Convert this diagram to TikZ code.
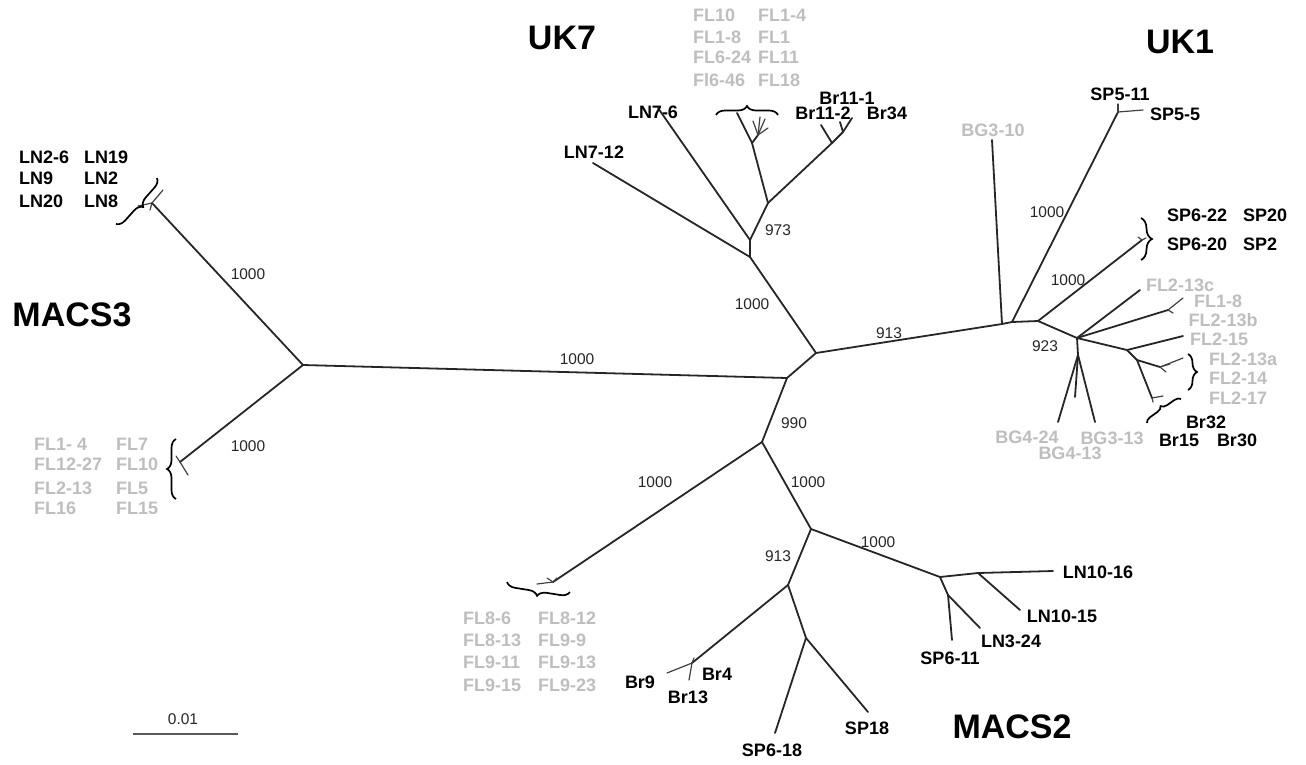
\documentclass[tikz,border=0pt]{standalone}
\usepackage{fontspec}
\setmainfont{Liberation Sans}
\usetikzlibrary{decorations.pathreplacing}
\definecolor{lgray}{RGB}{190,190,190}
\tikzset{
  br/.style={line width=1.8pt, draw=black!85, line cap=round},
  tw/.style={line width=1.2pt, draw=black!75, line cap=round},
  lab/.style={font=\fontsize{18}{18}\selectfont\bfseries, inner sep=0pt},
  glab/.style={lab, text=lgray},
  boot/.style={font=\fontsize{15.5}{15.5}\selectfont, inner sep=0pt, text=black!85},
  big/.style={font=\fontsize{34}{34}\selectfont\bfseries, inner sep=0pt},
  brc/.style={decorate, decoration={brace, amplitude=9pt}, line width=1.7pt},
  brcm/.style={decorate, decoration={brace, amplitude=9pt, mirror}, line width=1.7pt}
}
\begin{document}
\begin{tikzpicture}[x=1pt,y=-1pt]
\useasboundingbox (0,0) rectangle (1306,764);
% ---------- internal nodes ----------
\coordinate (M3) at (303,365);
\coordinate (A) at (787,378);
\coordinate (B) at (816,353);
\coordinate (C) at (762,442);
\coordinate (U0) at (750,257);
\coordinate (U1) at (750,240);
\coordinate (U2) at (768,203);
\coordinate (UF) at (752,143);
\coordinate (UF2) at (758,135);
\coordinate (UB1) at (832,143);
\coordinate (UB2) at (843,132);
\coordinate (K0) at (1002,324);
\coordinate (K1) at (1012,322);
\coordinate (K2) at (1038,321);
\coordinate (K3) at (1077,338);
\coordinate (K4) at (1127,350);
\coordinate (K5) at (1137,360);
\coordinate (K6) at (1078,355);
\coordinate (R1) at (1168,310);
\coordinate (R2) at (1160,367);
\coordinate (R3) at (1152,398);
\coordinate (S5) at (1118,112);
\coordinate (S6) at (1142,240);
\coordinate (E) at (811,529);
\coordinate (F) at (788,585);
\coordinate (G) at (940,577);
\coordinate (G2) at (978,573);
\coordinate (G3) at (948,595);
\coordinate (H) at (806,638);
\coordinate (Bn) at (692,663);
\coordinate (TT) at (152,203);
\coordinate (TB) at (180,462);
\coordinate (T8) at (553,582);
% ---------- tips ----------
\coordinate (tLN712) at (593,163);
\coordinate (tLN76) at (658,108);
\coordinate (tUF1) at (737,113);
\coordinate (tUF2) at (753,121);
\coordinate (tUF3) at (760,117);
\coordinate (tUF4) at (765,119);
\coordinate (tUF5) at (768,128);
\coordinate (tBr112) at (821,125);
\coordinate (tBr111) at (840,122);
\coordinate (tBr34) at (852,118);
\coordinate (tBG310) at (992,140);
\coordinate (tSP511) at (1118,104);
\coordinate (tSP55) at (1143,110);
\coordinate (tSP6a) at (1138,237);
\coordinate (tSP6b) at (1146,238);
\coordinate (tFL213c) at (1140,290);
\coordinate (tFL18) at (1183,298);
\coordinate (tFL213b) at (1173,313);
\coordinate (tFL215) at (1183,336);
\coordinate (tFLa) at (1183,358);
\coordinate (tFLb) at (1166,372);
\coordinate (tFLc) at (1170,364);
\coordinate (tBra) at (1163,396);
\coordinate (tBrb) at (1153,402);
\coordinate (tBG424) at (1058,422);
\coordinate (tBG313) at (1095,422);
\coordinate (tBG413) at (1075,397);
\coordinate (tTa) at (163,190);
\coordinate (tTb) at (138,206);
\coordinate (tTc) at (150,210);
\coordinate (tBa) at (188,475);
\coordinate (tBb) at (176,456);
\coordinate (t8a) at (537,584);
\coordinate (t8b) at (547,578);
\coordinate (t8c) at (557,578);
\coordinate (tLN1016) at (1053,571);
\coordinate (tLN1015) at (1020,610);
\coordinate (tLN324) at (980,628);
\coordinate (tSP611) at (952,640);
\coordinate (tBr9) at (667,673);
\coordinate (tBr13) at (689,680);
\coordinate (tBr4) at (694,658);
\coordinate (tSP618) at (775,733);
\coordinate (tSP18) at (868,712);
% ---------- branches ----------
\draw[br] (M3) -- (A);
\draw[br] (M3) -- (TT);
\draw[br] (M3) -- (TB);
\draw[br] (A) -- (B);
\draw[br] (A) -- (C);
\draw[br] (B) -- (U0);
\draw[br] (B) -- (K0);
% UK7
\draw[br] (U0) -- (tLN712);
\draw[br] (U0) -- (U1);
\draw[br] (U1) -- (tLN76);
\draw[br] (U1) -- (U2);
\draw[br] (U2) -- (UF);
\draw[br] (U2) -- (UB1);
\draw[br] (UF) -- (tUF1);
\draw[br] (UF) -- (UF2);
\draw[tw] (UF2) -- (tUF2);
\draw[tw] (UF2) -- (tUF3);
\draw[tw] (UF2) -- (tUF4);
\draw[tw] (UF2) -- (tUF5);
\draw[br] (UB1) -- (tBr112);
\draw[br] (UB1) -- (UB2);
\draw[br] (UB2) -- (tBr111);
\draw[br] (UB2) -- (tBr34);
% UK1
\draw[br] (K0) -- (tBG310);
\draw[br] (K0) -- (K1);
\draw[br] (K1) -- (S5);
\draw[tw] (S5) -- (tSP511);
\draw[tw] (S5) -- (tSP55);
\draw[br] (K1) -- (K2);
\draw[br] (K2) -- (S6);
\draw[tw] (S6) -- (tSP6a);
\draw[tw] (S6) -- (tSP6b);
\draw[br] (K2) -- (K3);
\draw[br] (K3) -- (tFL213c);
\draw[br] (K3) -- (R1);
\draw[tw] (R1) -- (tFL18);
\draw[tw] (R1) -- (tFL213b);
\draw[br] (K3) -- (K4);
\draw[br] (K4) -- (tFL215);
\draw[br] (K4) -- (K5);
\draw[br] (K5) -- (R2);
\draw[tw] (R2) -- (tFLa);
\draw[tw] (R2) -- (tFLb);
\draw[tw] (R2) -- (tFLc);
\draw[br] (K5) -- (R3);
\draw[tw] (R3) -- (tBra);
\draw[tw] (R3) -- (tBrb);
\draw[br] (K3) -- (K6);
\draw[br] (K6) -- (tBG424);
\draw[br] (K6) -- (tBG313);
\draw[br] (K6) -- (tBG413);
% MACS3 tips
\draw[tw] (TT) -- (tTa);
\draw[tw] (TT) -- (tTb);
\draw[tw] (TT) -- (tTc);
\draw[tw] (TB) -- (tBa);
\draw[tw] (TB) -- (tBb);
% MACS2
\draw[br] (C) -- (T8);
\draw[tw] (T8) -- (t8a);
\draw[tw] (T8) -- (t8b);
\draw[tw] (T8) -- (t8c);
\draw[br] (C) -- (E);
\draw[br] (E) -- (F);
\draw[br] (E) -- (G);
\draw[br] (G) -- (G2);
\draw[br] (G2) -- (tLN1016);
\draw[br] (G2) -- (tLN1015);
\draw[br] (G) -- (G3);
\draw[br] (G3) -- (tLN324);
\draw[br] (G3) -- (tSP611);
\draw[br] (F) -- (Bn);
\draw[tw] (Bn) -- (tBr9);
\draw[tw] (Bn) -- (tBr13);
\draw[tw] (Bn) -- (tBr4);
\draw[br] (F) -- (H);
\draw[br] (H) -- (tSP618);
\draw[br] (H) -- (tSP18);
% ---------- braces ----------
\coordinate (bTa) at (116,224); \coordinate (bTb) at (157,178);
\draw[brcm] (bTa) -- (bTb);
\coordinate (bBa) at (176,499); \coordinate (bBb) at (176,439);
\draw[brc] (bBa) -- (bBb);
\coordinate (b8a) at (507,582); \coordinate (b8b) at (570,592);
\draw[brcm] (b8a) -- (b8b);
\coordinate (bUa) at (716,115); \coordinate (bUb) at (778,115);
\draw[brc] (bUa) -- (bUb);
\coordinate (bSa) at (1141,218); \coordinate (bSb) at (1141,260);
\draw[brc, decoration={amplitude=11pt}] (bSa) -- (bSb);
\coordinate (bFa) at (1188,354); \coordinate (bFb) at (1188,390);
\draw[brc] (bFa) -- (bFb);
\coordinate (bRa) at (1147,423); \coordinate (bRb) at (1181,399);
\draw[brc, decoration={amplitude=6pt}] (bRa) -- (bRb);
% ---------- scale bar ----------
\coordinate (sA) at (133,734); \coordinate (sB) at (238,734);
\draw[line width=1.6pt, draw=black!65] (sA) -- (sB);
\node[boot] (scl) at (183,719) {0.01};
% ---------- group labels ----------
\node[big] (gUK7) at (562,38) {UK7};
\node[big] (gUK1) at (1180,42) {UK1};
\node[big] (gM3) at (72,315) {MACS3};
\node[big] (gM2) at (1012,727) {MACS2};
% ---------- bootstrap ----------
\node[boot] (b1) at (248,274) {1000};
\node[boot] (b2) at (248,446) {1000};
\node[boot] (b3) at (577,359) {1000};
\node[boot] (b4) at (752,304) {1000};
\node[boot] (b5) at (778,230) {973};
\node[boot] (b6) at (889,333) {913};
\node[boot] (b7) at (794,423) {990};
\node[boot] (b8) at (655,482) {1000};
\node[boot] (b9) at (808,482) {1000};
\node[boot] (b10) at (778,556) {913};
\node[boot] (b11) at (878,542) {1000};
\node[boot] (b12) at (1047,212) {1000};
\node[boot] (b13) at (1068,280) {1000};
\node[boot] (b14) at (1045,346) {923};
% ---------- leaf labels: MACS3 ----------
\node[lab, anchor=west] (l1) at (19,157) {LN2-6};
\node[lab, anchor=west] (l2) at (84,157) {LN19};
\node[lab, anchor=west] (l3) at (19,178) {LN9};
\node[lab, anchor=west] (l4) at (84,178) {LN2};
\node[lab, anchor=west] (l5) at (19,201) {LN20};
\node[lab, anchor=west] (l6) at (84,201) {LN8};
\node[glab, anchor=west] (l7) at (34,444) {FL1- 4};
\node[glab, anchor=west] (l8) at (116,444) {FL7};
\node[glab, anchor=west] (l9) at (34,464) {FL12-27};
\node[glab, anchor=west] (l10) at (116,464) {FL10};
\node[glab, anchor=west] (l11) at (34,488) {FL2-13};
\node[glab, anchor=west] (l12) at (116,488) {FL5};
\node[glab, anchor=west] (l13) at (34,508) {FL16};
\node[glab, anchor=west] (l14) at (116,508) {FL15};
% ---------- UK7 ----------
\node[lab] (l15) at (594,152) {LN7-12};
\node[lab] (l16) at (653,112) {LN7-6};
\node[glab, anchor=west] (l17) at (693,15) {FL10};
\node[glab, anchor=west] (l18) at (758,15) {FL1-4};
\node[glab, anchor=west] (l19) at (693,37) {FL1-8};
\node[glab, anchor=west] (l20) at (758,37) {FL1};
\node[glab, anchor=west] (l21) at (693,57) {FL6-24};
\node[glab, anchor=west] (l22) at (758,57) {FL11};
\node[glab, anchor=west] (l23) at (693,80) {Fl6-46};
\node[glab, anchor=west] (l24) at (758,80) {FL18};
\node[lab] (l25) at (847,98) {Br11-1};
\node[lab] (l26) at (823,113) {Br11-2};
\node[lab] (l27) at (887,113) {Br34};
% ---------- UK1 ----------
\node[glab] (l28) at (993,130) {BG3-10};
\node[lab] (l29) at (1120,94) {SP5-11};
\node[lab] (l30) at (1175,114) {SP5-5};
\node[lab, anchor=west] (l31) at (1167,215) {SP6-22};
\node[lab, anchor=west] (l32) at (1243,215) {SP20};
\node[lab, anchor=west] (l33) at (1167,244) {SP6-20};
\node[lab, anchor=west] (l34) at (1243,244) {SP2};
\node[glab] (l35) at (1180,285) {FL2-13c};
\node[glab] (l36) at (1218,301) {FL1-8};
\node[glab] (l37) at (1223,320) {FL2-13b};
\node[glab] (l38) at (1219,339) {FL2-15};
\node[glab] (l39) at (1243,359) {FL2-13a};
\node[glab] (l40) at (1238,378) {FL2-14};
\node[glab] (l41) at (1238,398) {FL2-17};
\node[lab] (l42) at (1206,422) {Br32};
\node[lab] (l43) at (1179,440) {Br15};
\node[lab] (l44) at (1237,440) {Br30};
\node[glab] (l45) at (1027,437) {BG4-24};
\node[glab] (l46) at (1112,438) {BG3-13};
\node[glab] (l47) at (1070,453) {BG4-13};
% ---------- MACS2 ----------
\node[glab, anchor=west] (l48) at (463,618) {FL8-6};
\node[glab, anchor=west] (l49) at (538,618) {FL8-12};
\node[glab, anchor=west] (l50) at (463,640) {FL8-13};
\node[glab, anchor=west] (l51) at (538,640) {FL9-9};
\node[glab, anchor=west] (l52) at (463,662) {FL9-11};
\node[glab, anchor=west] (l53) at (538,662) {FL9-13};
\node[glab, anchor=west] (l54) at (463,685) {FL9-15};
\node[glab, anchor=west] (l55) at (538,685) {FL9-23};
\node[lab] (l56) at (640,682) {Br9};
\node[lab] (l57) at (688,697) {Br13};
\node[lab] (l58) at (717,674) {Br4};
\node[lab] (l59) at (772,750) {SP6-18};
\node[lab] (l60) at (867,728) {SP18};
\node[lab] (l61) at (950,658) {SP6-11};
\node[lab] (l62) at (1011,641) {LN3-24};
\node[lab] (l63) at (1062,616) {LN10-15};
\node[lab] (l64) at (1098,572) {LN10-16};
\end{tikzpicture}
\end{document}
